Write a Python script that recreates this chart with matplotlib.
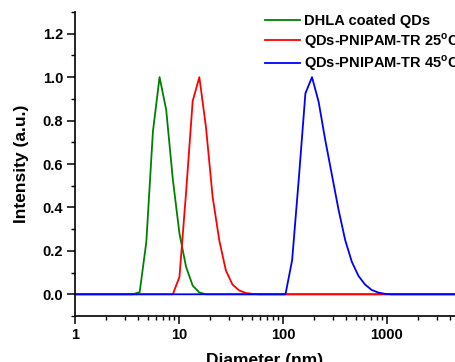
# DLS size distributions: DHLA QDs vs QDs-PNIPAM-TR at 25 and 45 C

import matplotlib
matplotlib.use('Agg')
import matplotlib.pyplot as plt
from matplotlib.ticker import MultipleLocator, LogLocator, FixedLocator, FixedFormatter

plt.rcParams['font.family'] = ['Liberation Sans', 'DejaVu Sans']
plt.rcParams['font.weight'] = 'bold'
plt.rcParams['mathtext.fontset'] = 'custom'
plt.rcParams['mathtext.rm'] = 'Liberation Sans:bold'

# size bins (nm)
diameter = [0.4, 0.4632, 0.5365, 0.6213, 0.7195, 0.8332, 0.9649, 1.117, 1.294, 1.499,
            1.736, 2.010, 2.328, 2.696, 3.122, 3.615, 4.187, 4.849, 5.615, 6.503,
            7.531, 8.721, 10.10, 11.70, 13.54, 15.69, 18.17, 21.04, 24.36, 28.21,
            32.67, 37.84, 43.82, 50.75, 58.77, 68.06, 78.82, 91.28, 105.7, 122.4,
            141.8, 164.2, 190.1, 220.2, 255.0, 295.3, 342.0, 396.1, 458.7, 531.2,
            615.1, 712.4, 825.0, 955.4, 1106, 1281, 1484, 1718, 1990, 2305,
            2669, 3091, 3580, 4145, 4801, 5560, 6439, 7456, 8635, 10000]

dhla = [0, 0, 0, 0, 0, 0, 0, 0, 0, 0,
        0, 0, 0, 0, 0, 0, 0.01, 0.24, 0.75, 1.0,
        0.85, 0.53, 0.28, 0.126, 0.04, 0.008, 0, 0, 0, 0,
        0, 0, 0, 0, 0, 0, 0, 0, 0, 0,
        0, 0, 0, 0, 0, 0, 0, 0, 0, 0,
        0, 0, 0, 0, 0, 0, 0, 0, 0, 0,
        0, 0, 0, 0, 0, 0, 0, 0, 0, 0]

tr25 = [0, 0, 0, 0, 0, 0, 0, 0, 0, 0,
        0, 0, 0, 0, 0, 0, 0, 0, 0, 0,
        0, 0, 0.08, 0.47, 0.89, 1.0, 0.77, 0.45, 0.25, 0.11,
        0.045, 0.018, 0.006, 0.002, 0, 0, 0, 0, 0, 0,
        0, 0, 0, 0, 0, 0, 0, 0, 0, 0,
        0, 0, 0, 0, 0, 0, 0, 0, 0, 0,
        0, 0, 0, 0, 0, 0, 0, 0, 0, 0]

tr45 = [0, 0, 0, 0, 0, 0, 0, 0, 0, 0,
        0, 0, 0, 0, 0, 0, 0, 0, 0, 0,
        0, 0, 0, 0, 0, 0, 0, 0, 0, 0,
        0, 0, 0, 0, 0, 0, 0, 0, 0, 0.157,
        0.53, 0.925, 1.0, 0.886, 0.71, 0.55, 0.39, 0.25, 0.15, 0.085,
        0.045, 0.02, 0.008, 0.002, 0, 0, 0, 0, 0, 0,
        0, 0, 0, 0, 0, 0, 0, 0, 0, 0]

labels = ['DHLA coated QDs', r'QDs-PNIPAM-TR 25$^\mathrm{o}$C', r'QDs-PNIPAM-TR 45$^\mathrm{o}$C']
colors = ['#008000', '#ff0000', '#0000ff']

x_ticks = [1, 10, 100, 1000]
x_ticklabels = ['1', '10', '100', '1000']
y_ticks = [0.0, 0.2, 0.4, 0.6, 0.8, 1.0, 1.2]

fig = plt.figure(figsize=(4.55, 3.62), dpi=100)
ax = fig.add_axes([75 / 455, 1 - 316 / 362, 380 / 455, 304 / 362])

for y, lab, c in zip([dhla, tr25, tr45], labels, colors):
    ax.plot(diameter, y, color=c, lw=1.3, label=lab)

ax.set_xscale('log')
ax.set_xlim(1, 4508)
ax.set_ylim(-0.1, 1.3)

ax.xaxis.set_major_locator(FixedLocator(x_ticks))
ax.xaxis.set_major_formatter(FixedFormatter(x_ticklabels))
ax.xaxis.set_minor_locator(LogLocator(base=10, subs=range(2, 10), numticks=20))
ax.set_yticks(y_ticks)
ax.set_yticklabels([f'{v:.1f}' for v in y_ticks])
ax.yaxis.set_minor_locator(MultipleLocator(0.1))

for s in ['top', 'right']:
    ax.spines[s].set_visible(False)
for s in ['left', 'bottom']:
    ax.spines[s].set_linewidth(1.2)

ax.tick_params(which='major', direction='out', length=5.5, width=1.1, labelsize=10.5, pad=3)
ax.tick_params(which='minor', direction='out', length=3, width=1.0)

ax.set_xlabel('Diameter (nm)', fontsize=12.5, fontweight='bold', labelpad=8)
ax.set_ylabel('Intensity (a.u.)', fontsize=12.5, fontweight='bold', labelpad=10)

fig.legend(loc='upper left', bbox_to_anchor=(265 / 455, 1 - 14 / 362), frameon=False,
           fontsize=10.5, handlelength=2.4, handletextpad=0.3, labelspacing=0.2,
           borderpad=0, borderaxespad=0)

plt.savefig('out.png', dpi=100)
